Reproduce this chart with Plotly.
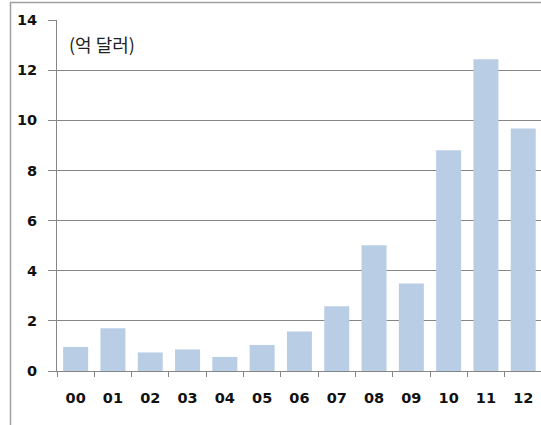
import plotly.graph_objects as go

categories = ["00", "01", "02", "03", "04", "05", "06", "07", "08", "09", "10", "11", "12"]
values = [0.96, 1.71, 0.74, 0.86, 0.56, 1.04, 1.58, 2.58, 5.02, 3.49, 8.8, 12.43, 9.67]
y_ticks = [0, 2, 4, 6, 8, 10, 12, 14]
unit_label = "(억 달러)"

W, H = 541, 425
L, R, T, B = 57, 0, 19.5, 54

fig = go.Figure(go.Bar(
    x=categories, y=values,
    marker=dict(color="#B9CDE5", line=dict(width=0)),
    width=0.67,
))

pw = W - L - R
ph = H - T - B

fig.update_layout(
    width=W, height=H,
    margin=dict(l=L, r=R, t=T, b=B, pad=0),
    paper_bgcolor="white", plot_bgcolor="white",
    showlegend=False,
    font=dict(family="DejaVu Sans", color="#111111"),
    xaxis=dict(
        type="category", range=[-0.5, 12.476],
        showline=True, linecolor="#868686", linewidth=1,
        ticks="outside", ticklen=5, tickcolor="#868686", tickson="boundaries",
        showgrid=False,
        tickfont=dict(size=14.5, family="DejaVu Sans", weight="bold"),
        ticklabelstandoff=14,
    ),
    yaxis=dict(
        range=[0, 14], tickvals=y_ticks,
        showline=True, linecolor="#868686", linewidth=1,
        ticks="outside", ticklen=8, tickcolor="#868686",
        showgrid=True, gridcolor="#868686", gridwidth=1,
        zeroline=False,
        tickfont=dict(size=14.5, family="DejaVu Sans", weight="bold"),
        ticklabelstandoff=8,
    ),
    annotations=[dict(
        text=unit_label, xref="paper", yref="paper",
        x=(67 - L) / pw, y=(371 - 44) / ph, xanchor="left", yanchor="middle",
        showarrow=False, font=dict(size=18, family="Noto Sans CJK KR", color="#222222"),
    )],
    shapes=[dict(
        type="rect", xref="paper", yref="paper",
        x0=(10.5 - L) / pw, x1=1.2, y0=-0.5, y1=(371 - 2) / ph,
        line=dict(color="#A0A0A0", width=1.5), layer="below",
    )],
)

fig.write_html("out.html")
